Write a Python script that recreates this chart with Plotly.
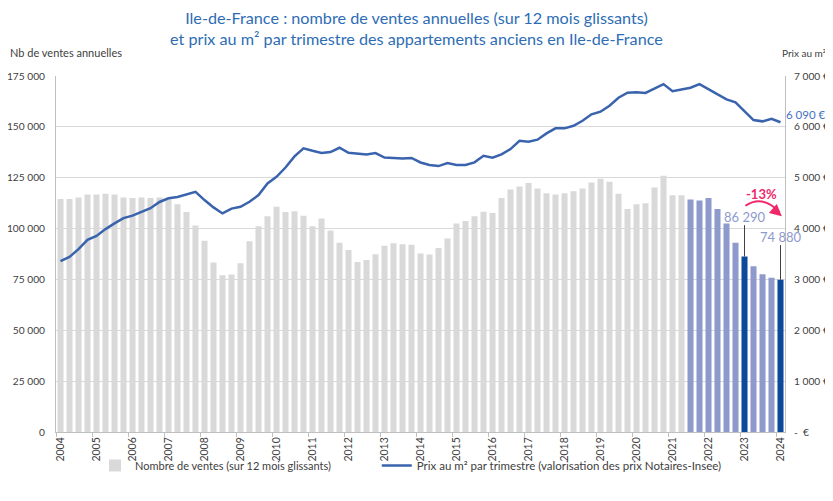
import plotly.graph_objects as go

# ---------------- data ----------------
annees = ["2004", "2005", "2006", "2007", "2008", "2009", "2010", "2011", "2012",
          "2013", "2014", "2015", "2016", "2017", "2018", "2019", "2020", "2021",
          "2022", "2023", "2024"]
trimestres = ["T1", "T2", "T3", "T4"]

# Nombre de ventes (sur 12 mois glissants), 2004 T1 -> 2024 T1
ventes = [114500, 114500, 115300, 116800, 116800, 117100, 116800, 115300, 115000, 115300,
          115000, 115300, 114800, 111900, 108200, 101500, 94000, 83300, 77100, 77400,
          83000, 93800, 101200, 106100, 110700, 108200, 108500, 106300, 101200, 105000,
          99100, 93000, 89500, 83600, 84500, 87400, 91500, 92800, 92300, 92000,
          87800, 87300, 90400, 95100, 102500, 103700, 106100, 108300, 107600, 115000,
          119200, 120700, 122400, 119700, 117400, 116800, 117400, 118400, 119700, 122700,
          124500, 123000, 117100, 109600, 112000, 112400, 120200, 126000, 116400, 116400,
          114300, 113800, 115000, 109600, 102500, 93000, 86290, 81500, 77600, 75800,
          74880]

# Prix au m² par trimestre (EUR)
prix = [3360, 3444, 3596, 3777, 3855, 3990, 4101, 4205, 4255, 4320,
        4400, 4523, 4596, 4622, 4665, 4723, 4560, 4416, 4298, 4392,
        4428, 4526, 4658, 4888, 5018, 5200, 5420, 5577, 5530, 5488,
        5504, 5589, 5491, 5471, 5459, 5485, 5396, 5389, 5380, 5389,
        5300, 5249, 5229, 5288, 5249, 5249, 5302, 5432, 5392, 5459,
        5563, 5727, 5707, 5748, 5872, 5971, 5971, 6022, 6120, 6246,
        6298, 6416, 6573, 6672, 6679, 6666, 6751, 6840, 6700, 6738,
        6770, 6840, 6738, 6640, 6541, 6482, 6311, 6134, 6108, 6160,
        6090]

debut_recent = "2021 T3"              # start of the recent (highlighted) period
points_cles = ["2023 T1", "2024 T1"]  # compared points
evolution = "-13%"
label_prix_final = "6 090 €"

ventes_ticks = [0, 25000, 50000, 75000, 100000, 125000, 150000, 175000]
ventes_ticktext = ["0", "25 000", "50 000", "75 000", "100 000", "125 000", "150 000", "175 000"]
prix_ticks = [0, 1000, 2000, 3000, 4000, 5000, 6000, 7000]
prix_ticktext = ["-  €", "1 000 €", "2 000 €", "3 000 €", "4 000 €", "5 000 €", "6 000 €", "7 000 €"]

# ---------------- build ----------------
labels = [f"{a} {t}" for a in annees for t in trimestres][:len(ventes)]
x = list(range(len(labels)))
i_recent = labels.index(debut_recent)
i_cles = [labels.index(p) for p in points_cles]

GRAY = "#D9D9D9"
LAV = "#8E9ACB"
DARK = "#0B4A9B"
PINK = "#F0286A"
colors = []
for i in x:
    if i in i_cles:
        colors.append(DARK)
    elif i >= i_recent:
        colors.append(LAV)
    else:
        colors.append(GRAY)

FONT = "Lato"
TXT = "#404040"

fig = go.Figure()
fig.add_bar(x=x, y=ventes, marker=dict(color=colors, line=dict(width=0)),
            name="Nombre de ventes (sur 12 mois glissants)", yaxis="y", legend="legend",
            customdata=labels, hovertemplate="%{customdata}: %{y}<extra></extra>")
fig.add_scatter(x=x, y=prix, mode="lines", line=dict(color="#3A63AE", width=2.5),
                name="Prix au m² par trimestre (valorisation des prix Notaires-Insee)",
                yaxis="y2", legend="legend2", customdata=labels,
                hovertemplate="%{customdata}: %{y} €<extra></extra>")

year_pos = [labels.index(f"{a} T1") for a in annees]

# figure is 8px smaller than the window on each side (page body margin)
W, H = 825, 493
PW = W - 48 - 48  # plot width in px
fig.update_layout(
    width=W, height=H,
    margin=dict(l=48, r=48, t=68, b=69, autoexpand=False),
    paper_bgcolor="white", plot_bgcolor="white",
    font=dict(family=FONT, size=11, color=TXT),
    bargap=0.33,
    xaxis=dict(range=[-0.5, len(x) - 0.5], tickmode="array", tickvals=year_pos,
               ticktext=annees, tickangle=-90, ticks="", showgrid=False,
               showline=True, linecolor="#BFBFBF", linewidth=1, automargin=False,
               tickfont=dict(size=10.5, color=TXT),
               minor=dict(tickmode="linear", tick0=-0.5, dtick=4, ticks="outside",
                          ticklen=4, tickcolor="#BFBFBF", showgrid=False),
               zeroline=False),
    yaxis=dict(range=[0, 175000], tickmode="array", tickvals=ventes_ticks,
               ticktext=ventes_ticktext, showgrid=True, gridcolor="#D9D9D9",
               gridwidth=1, showline=True, linecolor="#BFBFBF", zeroline=False,
               automargin=False, ticks="", ticklabelstandoff=8,
               tickfont=dict(size=10.2, color=TXT)),
    yaxis2=dict(range=[0, 7000], overlaying="y", side="right", tickmode="array",
                tickvals=prix_ticks, ticktext=prix_ticktext, showgrid=False,
                showline=True, linecolor="#BFBFBF", zeroline=False, ticks="",
                automargin=False, ticklabelstandoff=6, tickfont=dict(size=10.2, color=TXT)),
    legend=dict(orientation="h", x=0.0535, xanchor="left", y=-0.094, yanchor="middle",
                font=dict(size=11, color=TXT), bgcolor="rgba(0,0,0,0)"),
    legend2=dict(orientation="h", x=0.44, xanchor="left", y=-0.094, yanchor="middle",
                 font=dict(size=11.5, color=TXT), bgcolor="rgba(0,0,0,0)"),
    showlegend=True,
)

# title (two centred lines)
fig.add_annotation(text="Ile-de-France : nombre de ventes annuelles (sur 12 mois glissants)<br>"
                        "et prix au m² par trimestre des appartements anciens en Ile-de-France",
                   xref="paper", yref="paper", x=(416.5 - 56) / 729, y=1.1335,
                   xanchor="center", yanchor="middle", showarrow=False, align="center",
                   font=dict(family=FONT, size=16.2, color="#2E6DB4"))

# axis titles
right_edge = (W - 48 - 5) / PW  # paper x a little inside the figure's right edge
fig.add_annotation(text="Nb de ventes annuelles", xref="paper", yref="paper",
                   x=-0.0655, y=1.065, xanchor="left", yanchor="middle", showarrow=False,
                   font=dict(size=11, color=TXT))
fig.add_annotation(text="Prix au m²", xref="paper", yref="paper",
                   x=right_edge, y=1.065, xanchor="right", yanchor="middle", showarrow=False,
                   font=dict(size=10, color=TXT))

# final price label
fig.add_annotation(text=label_prix_final, xref="paper", yref="y2", x=right_edge, y=prix[-1],
                   xanchor="right", yanchor="middle", yshift=8, showarrow=False,
                   font=dict(size=11.5, color="#4472C4"))

# value labels with leader lines
fmt = lambda v: f"{v:,}".replace(",", " ")
for i, lead_top, lab_y in zip(i_cles, [101700, 91900], [105600, 95800]):
    v = ventes[i]
    fig.add_shape(type="line", xref="x", yref="y", x0=i, x1=i, y0=v, y1=lead_top,
                  line=dict(color=TXT, width=1))
    fig.add_annotation(text=fmt(v), xref="x", yref="y", x=i, y=lab_y, yanchor="middle",
                       xanchor="center", showarrow=False,
                       font=dict(size=13, color="#8E9ACB"))

# -13% curved arrow
a, b = i_cles
fig.add_shape(type="path", xref="x", yref="y",
              path=f"M {a + 0.1},111200 Q {(a + b) / 2},117000 {b - 0.1},108000",
              line=dict(color=PINK, width=2))
fig.add_annotation(x=b + 0.15, y=106000, xref="x", yref="y", ax=-8, ay=-7,
                   showarrow=True, arrowhead=2, arrowsize=1.2, arrowwidth=2,
                   arrowcolor=PINK, text="")
fig.add_annotation(text=f"<b>{evolution}</b>", xref="x", yref="y", x=(a + b) / 2 - 0.1,
                   y=117000, showarrow=False, font=dict(size=13, color=PINK))

fig.write_html("out.html")
